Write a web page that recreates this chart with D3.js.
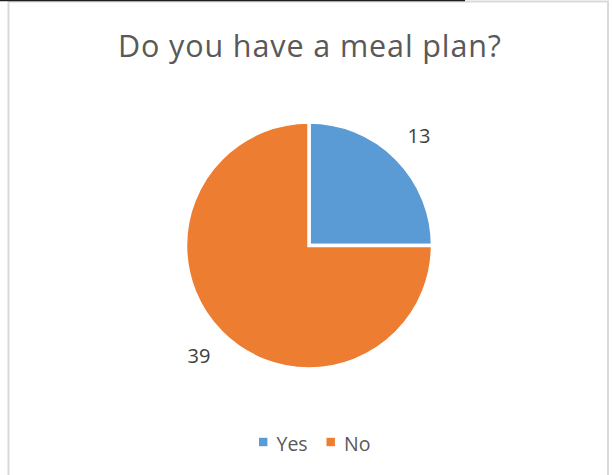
<!DOCTYPE html>
<html>
<head>
<meta charset="utf-8">
<script src="https://cdn.jsdelivr.net/npm/d3@7"></script>
<style>
  html, body { margin: 0; padding: 0; background: #fff; }
  svg { display: block; }
</style>
</head>
<body>
<svg id="chart" width="613" height="475"></svg>
<script>
// Survey answers
const categories = ["Yes", "No"];
const counts = [13, 39];
const sliceColors = ["#5B9BD5", "#ED7D31"];
const titleText = "Do you have a meal plan?";

const svg = d3.select("#chart");
const W = 613, H = 475;

// Chart frame
svg.append("rect")
  .attr("x", 8.5).attr("y", 1.5)
  .attr("width", 599.5).attr("height", H + 10)
  .attr("fill", "#fff")
  .attr("stroke", "#d9d9d9")
  .attr("stroke-width", 2);

// Dark rule along the top edge
svg.append("line")
  .attr("x1", 0).attr("x2", 465)
  .attr("y1", 0.6).attr("y2", 0.6)
  .attr("stroke", "#1f1f1f")
  .attr("stroke-width", 1.4);

// Title
svg.append("text")
  .attr("x", 309.5).attr("y", 57)
  .attr("text-anchor", "middle")
  .attr("font-family", "'Open Sans', sans-serif")
  .attr("font-size", 30.5)
  .attr("textLength", 383)
  .attr("lengthAdjust", "spacing")
  .attr("fill", "#595959")
  .text(titleText);

// Pie
const cx = 309, cy = 245.5, r = 123.5;
const data = categories.map((c, i) => ({ cat: c, value: counts[i] }));
const color = d3.scaleOrdinal().domain(categories).range(sliceColors);
const pie = d3.pie().value(d => d.value).sort(null).startAngle(0).endAngle(2 * Math.PI);
const arcs = pie(data);
const arc = d3.arc().innerRadius(0).outerRadius(r);

const g = svg.append("g").attr("transform", `translate(${cx},${cy})`);
g.selectAll("path.slice")
  .data(arcs)
  .join("path")
  .attr("class", "slice")
  .attr("d", arc)
  .attr("fill", d => color(d.data.cat))
  .attr("stroke", "#fff")
  .attr("stroke-width", 3.5)
  .attr("stroke-linejoin", "miter");

// Value labels placed outside the slices
const labelArc = d3.arc().innerRadius(r * 1.26).outerRadius(r * 1.26);
g.selectAll("text.val")
  .data(arcs)
  .join("text")
  .attr("class", "val")
  .attr("transform", d => {
    const [x, y] = labelArc.centroid(d);
    return `translate(${x},${y})`;
  })
  .attr("text-anchor", "middle")
  .attr("dy", "0.36em")
  .attr("font-family", "'Open Sans', sans-serif")
  .attr("font-size", 20)
  .attr("fill", "#404040")
  .text(d => d.data.value);

// Legend
const legend = svg.append("g").attr("transform", "translate(259,451)");
const legendItems = [
  { cat: categories[0], x: 0 },
  { cat: categories[1], x: 67.5 }
];
const li = legend.selectAll("g.item")
  .data(legendItems)
  .join("g")
  .attr("class", "item")
  .attr("transform", d => `translate(${d.x},0)`);
li.append("rect")
  .attr("x", 0).attr("y", -13.2)
  .attr("width", 8.4).attr("height", 8.4)
  .attr("fill", d => color(d.cat));
li.append("text")
  .attr("x", 17.5).attr("y", 0)
  .attr("font-family", "'Open Sans', sans-serif")
  .attr("font-size", 19.5)
  .attr("fill", "#595959")
  .text(d => d.cat);
</script>
</body>
</html>
